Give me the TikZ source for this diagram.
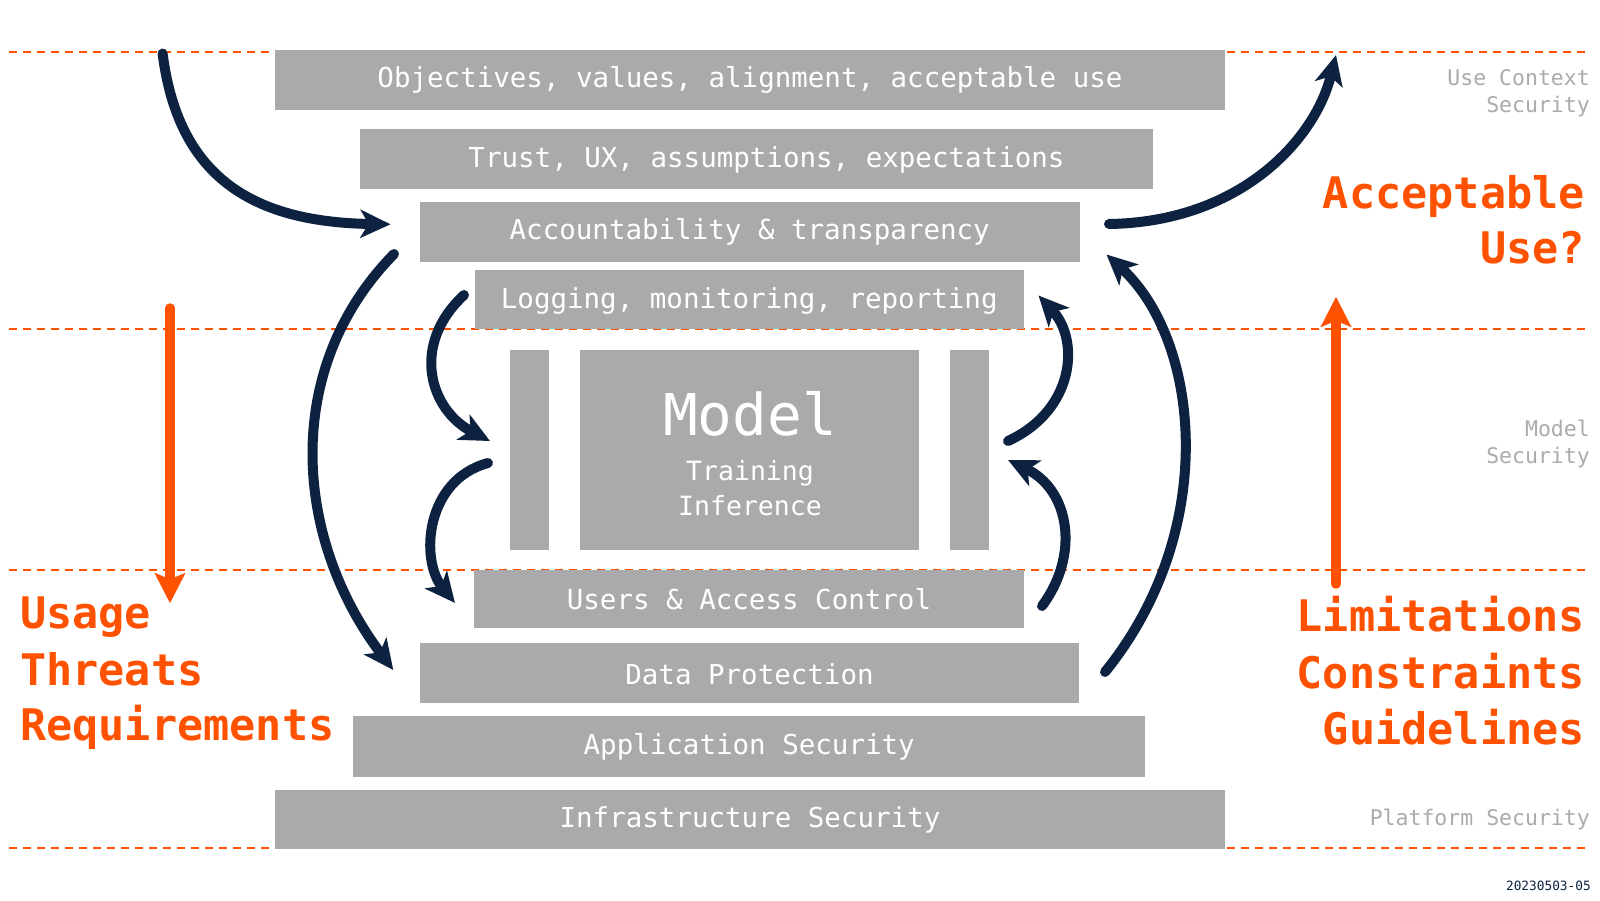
\documentclass[tikz,border=0pt]{standalone}
\usepackage{fontspec}
\newfontfamily\mono{DejaVu Sans Mono}
\usetikzlibrary{arrows.meta,calc}
\definecolor{boxgray}{HTML}{AAAAAA}
\definecolor{navy}{HTML}{0D2240}
\definecolor{orng}{HTML}{FF5200}
\definecolor{sidegray}{HTML}{ABABAB}
\begin{document}
\begin{tikzpicture}[x=1pt,y=-1pt,
  layer/.style={fill=boxgray, inner sep=0pt, outer sep=0pt, draw=none},
  lbl/.style={anchor=base, text=white, inner sep=0pt, font=\mono\fontsize{27.5}{33}\selectfont},
  sublbl/.style={anchor=base, text=white, inner sep=0pt, font=\mono\fontsize{26.5}{32}\selectfont},
  sidelbl/.style={anchor=base east, text=sidegray, inner sep=0pt, font=\mono\fontsize{21.5}{26}\selectfont},
  biglbl/.style={text=orng, inner sep=0pt, font=\mono\bfseries\fontsize{43.5}{52}\selectfont},
  sepline/.style={draw=orng, line width=2.3pt, dash pattern=on 8pt off 6pt},
  flow/.style={draw=navy, line width=10pt, line cap=round, -{Stealth[length=30pt,width=28pt,inset=8pt]}},
  oflow/.style={draw=orng, line width=9.5pt, line cap=round, -{Stealth[length=30pt,width=30pt,inset=6pt]}}
]
\fill[white] (0,0) rectangle (1600,900);
\useasboundingbox (0,0) rectangle (1600,900);

% separator lines
\foreach \yy in {51.7,329,570,847.7}
  \draw[sepline] (9,\yy) -- (1590,\yy);

% layers
\node[layer, minimum width=950pt, minimum height=60pt] (L1) at (750,80) {};
\node[layer, minimum width=793pt, minimum height=60pt] (L2) at (756.5,158.5) {};
\node[layer, minimum width=660.5pt, minimum height=60pt] (L3) at (749.75,231.7) {};
\node[layer, minimum width=549.5pt, minimum height=59pt] (L4) at (749.25,299.5) {};
\node[layer, minimum width=39pt, minimum height=200pt] (LB) at (529.5,450) {};
\node[layer, minimum width=339pt, minimum height=200pt] (M) at (749.5,450) {};
\node[layer, minimum width=39pt, minimum height=200pt] (RB) at (969.5,450) {};
\node[layer, minimum width=550pt, minimum height=57.7pt] (L8) at (749,598.85) {};
\node[layer, minimum width=659pt, minimum height=60pt] (L9) at (749.5,673) {};
\node[layer, minimum width=792.4pt, minimum height=60.7pt] (L10) at (749.2,746.35) {};
\node[layer, minimum width=950pt, minimum height=59pt] (L11) at (750,819.5) {};

% layer labels
\node[lbl] (t1) at ($(L1.center)+(0,7.5)$) {Objectives, values, alignment, acceptable use};
\node[lbl] (t2) at ($(L2.center)+(10,8.5)$) {Trust, UX, assumptions, expectations};
\node[lbl] (t3) at ($(L3.center)+(0,8)$) {Accountability \& transparency};
\node[lbl] (t4) at ($(L4.center)+(0,8.5)$) {Logging, monitoring, reporting};
\node[lbl] (t8) at ($(L8.center)+(0,10.5)$) {Users \& Access Control};
\node[lbl] (t9) at ($(L9.center)+(0,11)$) {Data Protection};
\node[lbl] (t10) at ($(L10.center)+(0,8.5)$) {Application Security};
\node[lbl] (t11) at ($(L11.center)+(0,8)$) {Infrastructure Security};

% model
\node[lbl, font=\mono\fontsize{57.6}{64}\selectfont] (mt) at (750,435) {Model};
\node[sublbl] (mtr) at (750,480.7) {Training};
\node[sublbl] (minf) at (750,515.7) {Inference};

% side labels
\node[sidelbl] (s1a) at (1590,85) {Use Context};
\node[sidelbl] (s1b) at (1590,112.7) {Security};
\node[sidelbl] (s2a) at (1590,436) {Model};
\node[sidelbl] (s2b) at (1590,463) {Security};
\node[sidelbl] (s3) at (1590,825) {Platform Security};
\node[anchor=base east, text=navy, inner sep=0pt, font=\mono\fontsize{12.8}{15}\selectfont] (date) at (1591,890) {20230503-05};

% big orange labels
\node[biglbl, anchor=base east] (acc1) at (1585,208) {Acceptable};
\node[biglbl, anchor=base east] (acc2) at (1585,263) {Use?};
\node[biglbl, anchor=base west] (u1) at (20,628) {Usage};
\node[biglbl, anchor=base west] (u2) at (20,685) {Threats};
\node[biglbl, anchor=base west] (u3) at (20,740) {Requirements};
\node[biglbl, anchor=base east] (g1) at (1585,631.7) {Limitations};
\node[biglbl, anchor=base east] (g2) at (1585,688) {Constraints};
\node[biglbl, anchor=base east] (g3) at (1585,744) {Guidelines};

% arrow end points
\coordinate (aS) at (162.6,53.5);   \coordinate (aE) at (390.5,224.3);
\coordinate (bS) at (1109,224);     \coordinate (bE) at (1336,55);
\coordinate (cS) at (394,254);      \coordinate (cE) at (393.3,670);
\coordinate (dS) at (1105,672);     \coordinate (dE) at (1106.5,254.5);
\coordinate (eS) at (464,295);      \coordinate (eE) at (490,441);
\coordinate (fS) at (488,463);      \coordinate (fE) at (455,603);
\coordinate (gS) at (1042,606);     \coordinate (gE) at (1008,460);
\coordinate (hS) at (1008,441);     \coordinate (hE) at (1038.5,295.5);
\coordinate (oLS) at (170,308);     \coordinate (oLE) at (170,603.3);
\coordinate (oRS) at (1336,584);    \coordinate (oRE) at (1336,296.7);

% navy arrows
\draw[flow] (aS) .. controls (178,175) and (250,222) .. (aE);
\draw[flow] (bS) .. controls (1240,222) and (1315,140) .. (bE);
\draw[flow] (cS) .. controls (280,370) and (295,540) .. (cE);
\draw[flow] (dS) .. controls (1220,530) and (1200,340) .. (dE);
\draw[flow] (eS) .. controls (410,345) and (430,410) .. (eE);
\draw[flow] (fS) .. controls (425,480) and (420,560) .. (fE);
\draw[flow] (gS) .. controls (1080,555) and (1070,490) .. (gE);
\draw[flow] (hS) .. controls (1075,410) and (1080,340) .. (hE);

% orange arrows
\draw[oflow] (oLS) -- (oLE);
\draw[oflow] (oRS) -- (oRE);
\end{tikzpicture}
\end{document}
